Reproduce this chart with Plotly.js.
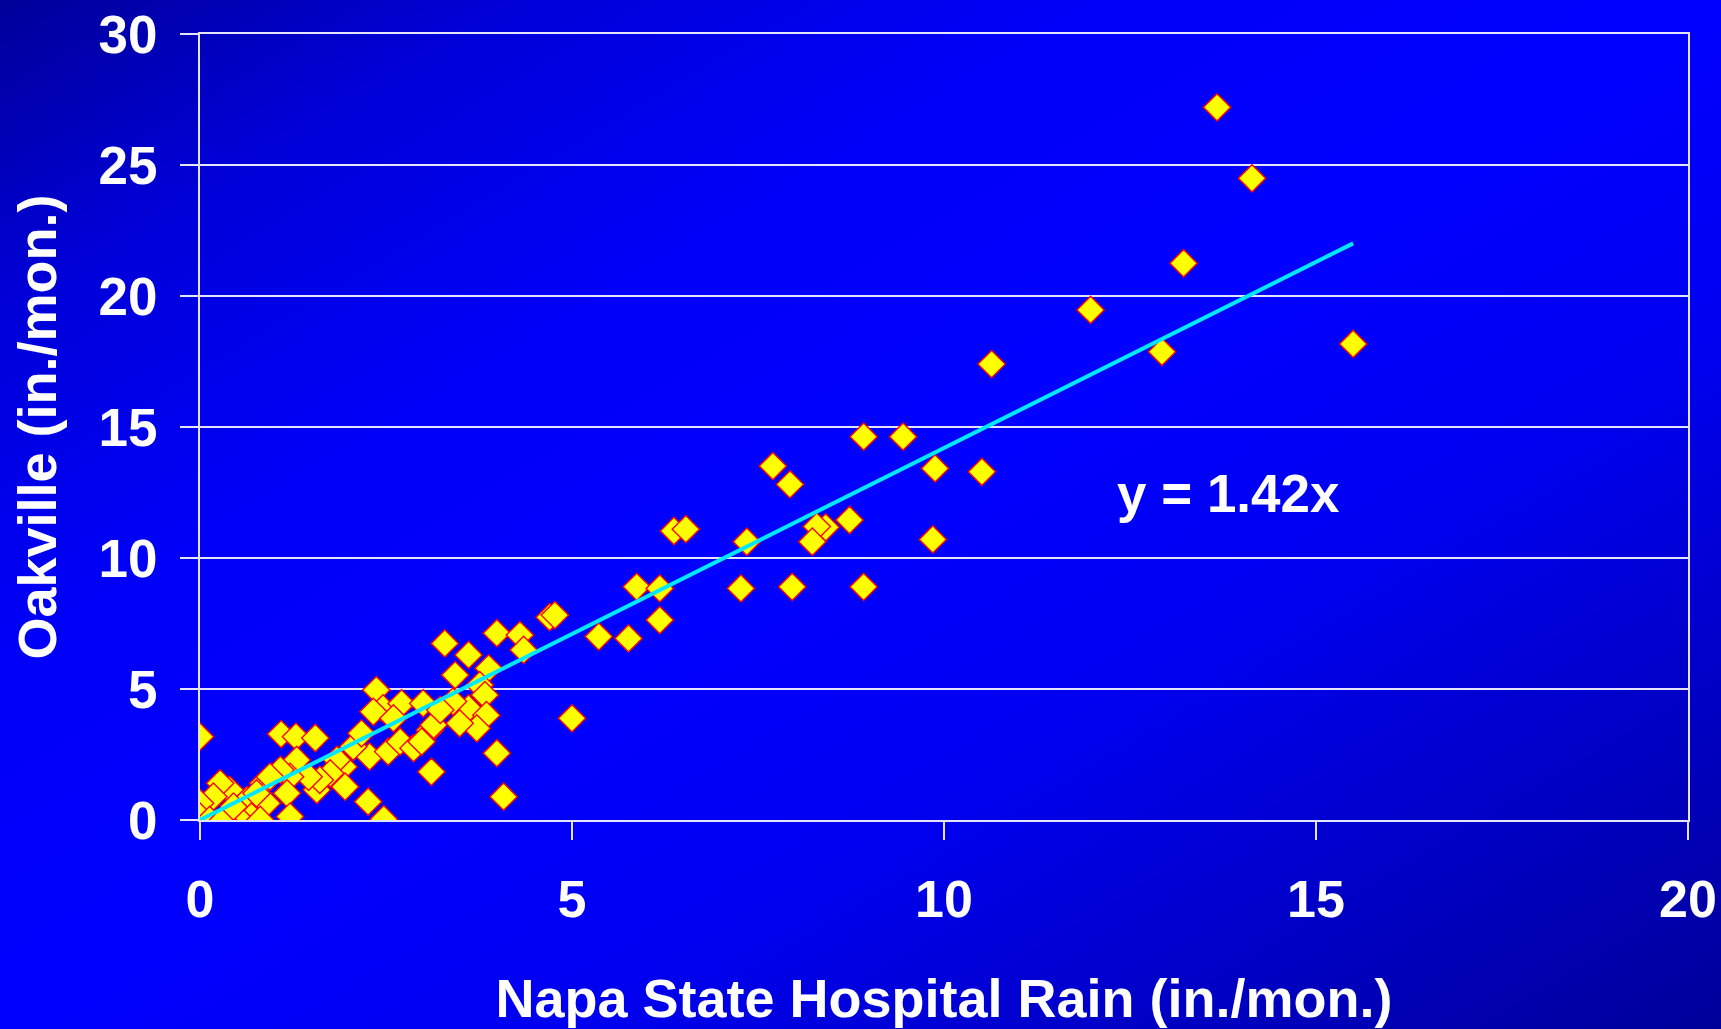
<!DOCTYPE html>
<html>
<head>
<meta charset="utf-8">
<script src="https://cdn.plot.ly/plotly-3.0.1.min.js"></script>
<style>
  html, body { margin: 0; padding: 0; }
  body {
    width: 1721px; height: 1029px; overflow: hidden;
    background: linear-gradient(to bottom right, #000099 0%, #0000d8 15%, #0000f8 32%, #0000ff 50%, #0000f0 66%, #0000c8 82%, #000099 100%);
  }
  #chart { width: 1721px; height: 1029px; }
</style>
</head>
<body>
<div id="chart"></div>
<script>
// Napa State Hospital monthly rain (x) vs Oakville monthly rain (y), in./mon.
const napaRain = [
  0.00, 1.09, 1.29, 1.55, 2.37, 2.46, 2.33, 2.71, 2.60, 2.28,
  2.53, 2.69, 2.87, 3.00, 3.09, 2.98, 3.14, 3.11, 3.29, 3.43,
  3.61, 3.99, 4.30, 4.35, 4.70, 4.77, 3.88, 3.76, 3.83, 3.61,
  3.85, 3.72, 3.49, 3.40, 3.23, 3.99, 4.08, 5.00, 2.26, 2.47,
  1.93, 1.95, 1.84, 2.06, 2.17, 1.75, 1.57, 1.61, 1.46, 1.30,
  1.21, 1.08, 1.17, 1.21, 0.90, 0.85, 0.63, 0.69, 0.54, 0.40,
  0.27, 0.18, 0.00, 0.00, 0.13, 0.31, 0.45, 0.76, 0.81, 0.94,
  5.87, 6.18, 6.18, 7.27, 5.36, 5.76, 7.96, 8.92, 8.92, 9.45,
  9.88, 10.51, 7.70, 7.93, 8.73, 8.41, 8.29, 8.23, 9.85, 6.37,
  6.53, 7.35, 13.67, 14.14, 13.22, 11.97, 15.50, 12.93, 10.64
];
const oakvilleRain = [
  3.18, 3.28, 3.18, 3.13, 4.96, 4.26, 4.13, 4.45, 3.88, 2.42,
  2.61, 2.99, 2.74, 4.45, 3.43, 2.99, 3.63, 1.84, 6.74, 5.53,
  6.30, 7.13, 7.06, 6.49, 7.74, 7.82, 5.79, 5.15, 4.77, 4.26,
  4.00, 3.50, 3.69, 4.52, 4.20, 2.55, 0.89, 3.88, 0.70, 0.03,
  2.03, 1.27, 2.29, 2.80, 3.31, 1.78, 1.15, 1.53, 1.65, 2.29,
  1.65, 1.91, 1.02, 0.13, 0.64, 1.40, 0.76, 0.13, 0.00, 1.15,
  1.40, 0.89, 0.64, 0.13, 0.00, 0.00, 0.51, 1.02, 0.00, 1.65,
  8.90, 8.84, 7.63, 8.84, 7.00, 6.93, 8.90, 8.90, 14.63, 14.63,
  13.42, 13.29, 13.51, 12.81, 11.45, 11.17, 11.20, 10.62, 10.71, 11.03,
  11.10, 10.62, 27.20, 24.49, 21.25, 19.47, 18.17, 17.87, 17.40
];
// Fitted trend (through origin)
const trendSlope = 1.42;
const trendX = [0, 15.5];
const trendY = trendX.map(v => v * trendSlope);
const trendLabel = "y = 1.42x";

const xTicks = [0, 5, 10, 15, 20];
const yTicks = [0, 5, 10, 15, 20, 25, 30];
const xTitle = "Napa State Hospital Rain (in./mon.)";
const yTitle = "Oakville (in./mon.)";

const FONT = "Arial, 'Liberation Sans', sans-serif";
const gridCol = "#e4e4ff";

const data = [
  {
    type: "scatter", mode: "markers",
    x: napaRain, y: oakvilleRain,
    marker: { symbol: "diamond", size: 21, color: "#ffff00",
              line: { color: "#ff0000", width: 1.4 } },
    hoverinfo: "skip"
  },
  {
    type: "scatter", mode: "lines",
    x: trendX, y: trendY,
    line: { color: "#00e8ff", width: 4 },
    hoverinfo: "skip"
  }
];

const layout = {
  width: 1721, height: 1029,
  paper_bgcolor: "rgba(0,0,0,0)",
  plot_bgcolor: "rgba(0,0,0,0)",
  showlegend: false,
  margin: { l: 200, r: 33, t: 34, b: 209 },
  font: { family: FONT, color: "#ffffff" },
  xaxis: {
    range: [0, 20], tickvals: xTicks, ticktext: xTicks.map(String),
    showgrid: false, zeroline: false,
    showline: true, linecolor: gridCol, linewidth: 2, mirror: true,
    ticks: "outside", ticklen: 18, tickwidth: 2, tickcolor: gridCol,
    tickfont: { family: FONT, size: 52, color: "#ffffff", weight: "bold" },
    ticklabelstandoff: 15,
    title: { text: xTitle, standoff: 52,
             font: { family: FONT, size: 54, color: "#ffffff", weight: "bold" } },
    automargin: false, fixedrange: true
  },
  yaxis: {
    range: [0, 30], tickvals: yTicks, ticktext: yTicks.map(String),
    showgrid: true, gridcolor: gridCol, gridwidth: 2,
    zeroline: false,
    showline: true, linecolor: gridCol, linewidth: 2, mirror: true,
    ticks: "outside", ticklen: 18, tickwidth: 2, tickcolor: gridCol,
    tickfont: { family: FONT, size: 53, color: "#ffffff", weight: "bold" },
    ticklabelstandoff: 12,
    title: { text: yTitle, standoff: 25,
             font: { family: FONT, size: 54, color: "#ffffff", weight: "bold" } },
    automargin: false, fixedrange: true
  },
  annotations: [
    { x: 13.83, y: 12.45, xref: "x", yref: "y", text: trendLabel,
      showarrow: false, xanchor: "center", yanchor: "middle",
      font: { family: FONT, size: 53, color: "#ffffff", weight: "bold" } }
  ]
};

Plotly.newPlot("chart", data, layout, { staticPlot: true, displayModeBar: false });
</script>
</body>
</html>
